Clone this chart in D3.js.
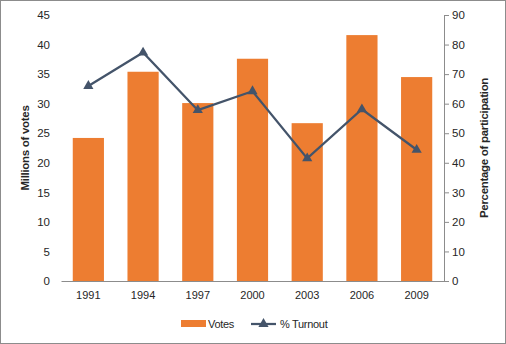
<!DOCTYPE html>
<html lang="en">
<head>
    <meta charset="UTF-8">
    <script src="https://d3js.org/d3.v7.min.js"></script>
    <title>Votes and turnout</title>
    <style>
        body { margin: 0; }
        text { font-family: Arial, "Liberation Sans", sans-serif; fill: #262626; }
    </style>
</head>
<body>
    <div id="chart"></div>
    <script>
        // data
        const years = ["1991", "1994", "1997", "2000", "2003", "2006", "2009"];
        const votes = [24.2, 35.4, 30.1, 37.6, 26.7, 41.6, 34.5];
        const turnout = [66.0, 77.3, 57.8, 64.2, 41.5, 58.1, 44.4];
        const leftTicks = [0, 5, 10, 15, 20, 25, 30, 35, 40, 45];
        const rightTicks = [0, 10, 20, 30, 40, 50, 60, 70, 80, 90];

        const W = 506, H = 344;
        const margin = {top: 15, right: 62, bottom: 63, left: 61};
        const width = W - margin.left - margin.right;
        const height = H - margin.top - margin.bottom;

        const svg = d3.select("#chart").append("svg")
            .attr("width", W)
            .attr("height", H);

        // outer border
        svg.append("rect")
            .attr("x", 0.5).attr("y", 0.5)
            .attr("width", W - 1).attr("height", H - 1)
            .attr("fill", "#fff")
            .attr("stroke", "#8c8c8c");

        const g = svg.append("g")
            .attr("transform", `translate(${margin.left},${margin.top})`);

        const x = d3.scaleBand().domain(years).range([0, width]).paddingInner(0.43).paddingOuter(0.215);
        const y = d3.scaleLinear().domain([0, 45]).range([height, 0]);
        const y2 = d3.scaleLinear().domain([0, 90]).range([height, 0]);

        // left axis: labels only
        const yAxis = g.append("g")
            .call(d3.axisLeft(y).tickValues(leftTicks).tickSize(0).tickPadding(11));
        yAxis.select(".domain").remove();
        yAxis.selectAll("text").attr("font-size", 11.5).style("font-family", "Arial, 'Liberation Sans', sans-serif").attr("fill", "#262626");

        // right axis
        const y2Axis = g.append("g")
            .attr("transform", `translate(${width},0)`)
            .call(d3.axisRight(y2).tickValues(rightTicks).tickSize(5).tickSizeOuter(0).tickPadding(3));
        y2Axis.select(".domain").attr("stroke", "#8c8c8c");
        y2Axis.selectAll(".tick line").attr("stroke", "#8c8c8c");
        y2Axis.selectAll("text").attr("font-size", 11.5).style("font-family", "Arial, 'Liberation Sans', sans-serif").attr("fill", "#262626");

        // bars
        g.selectAll(".bar")
            .data(votes)
            .join("rect")
            .attr("class", "bar")
            .attr("x", (d, i) => x(years[i]))
            .attr("y", d => y(d))
            .attr("width", x.bandwidth())
            .attr("height", d => height - y(d))
            .attr("fill", "#ED7D31");

        // x axis
        const xAxis = g.append("g")
            .attr("transform", `translate(0,${height})`)
            .call(d3.axisBottom(x).tickSize(0).tickPadding(10));
        xAxis.select(".domain").attr("stroke", "#8c8c8c");
        xAxis.selectAll("text").attr("font-size", 11).style("font-family", "Arial, 'Liberation Sans', sans-serif").attr("fill", "#262626");

        // turnout line
        const line = d3.line()
            .x((d, i) => x(years[i]) + x.bandwidth() / 2)
            .y(d => y2(d));
        g.append("path")
            .datum(turnout)
            .attr("fill", "none")
            .attr("stroke", "#44546A")
            .attr("stroke-width", 2.25)
            .attr("d", line);

        const tri = d3.symbol().type(d3.symbolTriangle).size(45);
        g.selectAll(".marker")
            .data(turnout)
            .join("path")
            .attr("class", "marker")
            .attr("transform", (d, i) => `translate(${x(years[i]) + x.bandwidth() / 2},${y2(d)})`)
            .attr("d", tri)
            .attr("fill", "#44546A");

        // axis titles
        svg.append("text")
            .attr("transform", `translate(29,${margin.top + height / 2}) rotate(-90)`)
            .attr("text-anchor", "middle")
            .attr("font-size", 11.5)
            .attr("font-weight", "bold")
            .attr("letter-spacing", -0.3)
            .text("Millions of votes");
        svg.append("text")
            .attr("transform", `translate(488,${margin.top + height / 2}) rotate(-90)`)
            .attr("text-anchor", "middle")
            .attr("font-size", 11.5)
            .attr("font-weight", "bold")
            .attr("letter-spacing", -0.3)
            .text("Percentage of participation");

        // legend
        const leg = svg.append("g").attr("transform", "translate(0,324)");
        leg.append("rect").attr("x", 181).attr("y", -4).attr("width", 25).attr("height", 7).attr("fill", "#ED7D31");
        leg.append("text").attr("x", 208).attr("y", 4).attr("font-size", 11).attr("letter-spacing", -0.3).text("Votes");
        leg.append("line").attr("x1", 251).attr("x2", 276).attr("y1", 0).attr("y2", 0)
            .attr("stroke", "#44546A").attr("stroke-width", 2.25);
        leg.append("path").attr("transform", "translate(263.5,0)").attr("d", tri).attr("fill", "#44546A");
        leg.append("text").attr("x", 280).attr("y", 4).attr("font-size", 11).attr("letter-spacing", -0.3).text("% Turnout");
    </script>
</body>
</html>
